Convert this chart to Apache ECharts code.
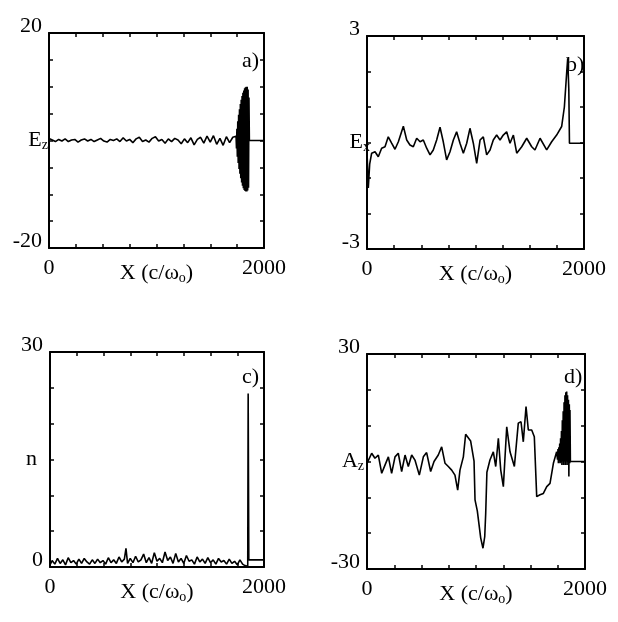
<!DOCTYPE html>
<html>
<head>
<meta charset="utf-8">
<script src="https://cdn.jsdelivr.net/npm/echarts@6/dist/echarts.min.js"></script>
<style>
  html, body { margin: 0; padding: 0; background: #fff; }
  #main { width: 618px; height: 622px; }
</style>
</head>
<body>
<div id="main"></div>
<script>
// panel a) E_z : small noise then the laser packet near x ~ 1800
var ezX = [0,30,60,90,120,150,180,210,240,270,300,330,360,390,420,450,480,510,540,570,600,
  630,660,690,720,750,780,810,840,870,900,930,960,990,1020,1050,1080,1110,1140,1170,1200,
  1230,1260,1290,1320,1350,1380,1410,1440,1470,1500,1530,1560,1590,1620,1650,1680,1710,
  1740,1744,1748,1752,1756,1760,1764,1768,1772,1776,1780,1784,1788,1792,1796,1800,1804,1808,
  1812,1816,1820,1824,1828,1832,1836,1840,1844,1848,1852,1856,1860,1864,2000];
var ezY = [0.4,0.1,-0.2,0.2,-0.1,0.3,-0.2,0.1,0.2,-0.3,0.1,0.3,-0.1,0.2,-0.2,0.1,0.4,-0.1,-0.3,0.2,0.0,
  0.3,-0.2,0.5,-0.1,0.2,-0.4,0.3,0.6,-0.2,0.1,-0.3,0.4,0.7,-0.1,0.2,-0.5,0.3,-0.2,0.4,0.1,
  -0.6,0.3,-0.4,0.5,-0.8,0.2,0.6,-0.5,0.8,-0.3,0.9,-0.7,0.4,-0.9,0.7,-0.4,0.6,
  0.8,-1.5,2.2,-3.0,3.6,-4.2,4.8,-5.3,5.8,-6.2,6.8,-7.0,7.6,-7.8,8.3,-8.4,8.9,-8.9,
  9.3,-9.2,9.7,-9.4,9.9,-9.5,10.0,-9.5,10.0,-9.3,9.5,-8.8,8.0,0,0];

// panel b) E_x
var exX = [0,12,25,43,74,104,135,166,196,227,258,289,335,366,396,427,458,489,519,550,581,611,
  642,673,703,734,765,796,826,857,888,919,949,980,1011,1042,1072,1103,1134,1164,1195,1226,
  1256,1287,1318,1349,1380,1426,1472,1518,1548,1595,1656,1702,1748,1794,1819,1840,1850,
  1860,1866,2000];
var exY = [-0.26,-1.28,-0.6,-0.3,-0.26,-0.4,-0.16,-0.12,0.16,-0.02,-0.19,0.02,0.46,0.07,-0.07,
  -0.12,0.12,0.02,0.07,-0.16,-0.35,-0.21,0.07,0.43,0.02,-0.49,-0.26,0.07,0.3,-0.02,-0.3,
  -0.02,0.4,-0.02,-0.59,0.07,0.16,-0.35,-0.21,0.07,0.21,0.07,0.21,0.3,-0.02,0.21,-0.3,
  -0.12,0.12,-0.12,-0.21,0.12,-0.21,0.02,0.21,0.45,1.0,1.95,2.37,1.5,-0.02,-0.02];

// panel c) n
var nX = [0,20,45,70,95,120,145,170,195,220,245,270,295,320,345,370,395,420,445,470,495,520,
  545,570,595,620,645,670,695,710,725,750,775,800,825,850,875,900,925,950,975,1000,1025,
  1050,1075,1100,1125,1150,1175,1200,1225,1250,1275,1300,1325,1350,1375,1400,1425,1450,
  1475,1500,1525,1550,1575,1600,1625,1650,1675,1700,1725,1750,1775,1800,1822,1835,1848,
  1852,1858,2000];
var nY = [0.3,0.9,0.4,1.2,0.5,1.0,0.3,1.3,0.6,0.9,0.4,1.1,0.5,1.2,0.7,0.4,1.0,0.5,1.1,0.6,
  0.9,0.4,1.3,0.6,1.0,0.5,1.4,0.7,1.1,2.6,0.5,1.2,0.6,1.5,0.7,1.0,1.8,0.6,1.3,0.5,2.0,0.8,
  1.2,0.6,2.1,0.9,1.4,0.5,1.9,0.7,1.2,0.5,1.6,0.8,1.0,0.4,1.4,0.7,1.1,0.5,1.3,0.6,1.0,
  0.4,1.2,0.7,0.9,0.4,1.1,0.5,0.8,0.3,1.0,0.4,0.2,0.1,0.1,24.2,1.0,1.0];

// panel d) A_z
var azX = [0,12,43,73,104,135,165,196,226,257,287,318,349,379,410,440,480,517,547,584,615,
  654,685,716,746,777,807,832,853,884,905,920,951,982,991,1012,1043,1064,1080,1089,1100,
  1128,1159,1181,1205,1227,1251,1282,1312,1352,1388,1413,1434,1459,1480,1511,1535,1557,
  1587,1618,1649,1679,1710,1740,1744,1748,1752,1756,1760,1764,1768,1772,1776,1780,1784,
  1788,1792,1796,1800,1804,1808,1812,1816,1820,1824,1828,1832,1836,1840,1844,1848,1852,
  1856,1860,1862,1866,2000];
var azY = [-0.5,-0.5,2.3,0.9,1.8,-3.3,-1.0,1.3,-3.3,1.3,2.3,-2.8,1.8,-1.4,1.8,0.4,-3.8,1.3,
  2.5,-2.8,0,1.8,4.1,-0.5,-1.4,-2.4,-3.8,-8.0,-2.4,1.3,7.6,7.4,5.7,0.1,-10.7,-13.8,-21.3,
  -24.2,-21.0,-14.5,-3.0,0.4,2.7,-1.4,6.5,-2.4,-7.0,9.7,2.7,-1.4,10.7,11.1,5.5,15.3,8.8,
  8.8,6.9,-9.8,-9.3,-8.9,-7.0,-6.1,-0.5,2.7,2.5,0.5,3.5,-0.5,4.0,0.5,5.0,-0.5,6.5,0,8.5,
  -1,11.5,0,14.0,-1,16.5,0,18.5,-1,19.3,0,19.5,-1,18.5,0,17.2,-4.2,16,-0.5,14.4,0,0];

var xTicks = [0, 2000];
var panels = [
  {xs: ezX, ys: ezY, min: -20, max: 20, step: 5, name: 'E{sub|z}', gap: 1, tag: 'a)',
   grid: {left: 49, top: 33, width: 215, height: 215}, tagPos: [242, 50]},
  {xs: exX, ys: exY, min: -3, max: 3, step: 1, name: 'E{sub|x}', gap: -3, tag: 'b)',
   grid: {left: 367, top: 36, width: 217, height: 213}, tagPos: [566, 54]},
  {xs: nX, ys: nY, min: 0, max: 30, step: 5, name: 'n', gap: 13, tag: 'c)',
   grid: {left: 50, top: 352, width: 214, height: 215}, tagPos: [242, 366]},
  {xs: azX, ys: azY, min: -30, max: 30, step: 10, name: 'A{sub|z}', gap: 3, tag: 'd)',
   grid: {left: 367, top: 354, width: 218, height: 215}, tagPos: [564, 366]}
];

var font = 'Liberation Serif';
var rich = {
  sub: {fontSize: 14, fontFamily: font, color: '#000', lineHeight: 6, verticalAlign: 'bottom'}
};
var lineW = 2;
var tick = {show: true, inside: true, length: 4, lineStyle: {color: '#000', width: 1.5}};
var frameLine = {onZero: false, lineStyle: {color: '#000', width: lineW}};

var grids = [], xAxes = [], yAxes = [], series = [], graphics = [];
panels.forEach(function (p, i) {
  grids.push(p.grid);
  xAxes.push({
    gridIndex: i, type: 'value', position: 'bottom', min: 0, max: 2000, interval: 250,
    axisLine: frameLine, axisTick: tick, splitLine: {show: false},
    axisLabel: {
      margin: 12, color: '#000', fontFamily: font, fontSize: 22, lineHeight: 16,
      formatter: function (v) { return xTicks.indexOf(v) >= 0 ? String(v) : ''; }
    },
    name: 'X (c/ω{sub|o})', nameLocation: 'middle', nameGap: 13, nameMoveOverlap: false,
    nameTextStyle: {color: '#000', fontFamily: font, fontSize: 22, lineHeight: 24, rich: rich}
  });
  xAxes.push({
    gridIndex: i, type: 'value', position: 'top', min: 0, max: 2000, interval: 250,
    axisLine: frameLine, axisTick: tick, axisLabel: {show: false}, splitLine: {show: false}
  });
  yAxes.push({
    gridIndex: i, type: 'value', position: 'left', min: p.min, max: p.max, interval: p.step,
    axisLine: frameLine, axisTick: tick, splitLine: {show: false},
    axisLabel: {
      margin: 7, color: '#000', fontFamily: font, fontSize: 22, lineHeight: 14,
      verticalAlign: 'bottom',
      formatter: function (v) { return (v === p.min || v === p.max) ? String(v) : ''; }
    },
    name: p.name, nameLocation: 'middle', nameRotate: 0, nameGap: p.gap, nameMoveOverlap: false,
    nameTextStyle: {color: '#000', fontFamily: font, fontSize: 22, lineHeight: 24, rich: rich}
  });
  yAxes.push({
    gridIndex: i, type: 'value', position: 'right', min: p.min, max: p.max, interval: p.step,
    axisLine: frameLine, axisTick: tick, axisLabel: {show: false}, splitLine: {show: false}
  });
  series.push({
    type: 'line', xAxisIndex: i * 2, yAxisIndex: i * 2, showSymbol: false,
    lineStyle: {color: '#000', width: 1.6}, animation: false,
    data: p.xs.map(function (x, k) { return [x, p.ys[k]]; })
  });
  graphics.push({
    type: 'text', left: p.tagPos[0], top: p.tagPos[1],
    style: {text: p.tag, fill: '#000', font: '22px "' + font + '"'}
  });
});

var chart = echarts.init(document.getElementById('main'));
chart.setOption({
  backgroundColor: '#fff',
  animation: false,
  grid: grids,
  xAxis: xAxes,
  yAxis: yAxes,
  series: series,
  graphic: graphics
});
</script>
</body>
</html>
